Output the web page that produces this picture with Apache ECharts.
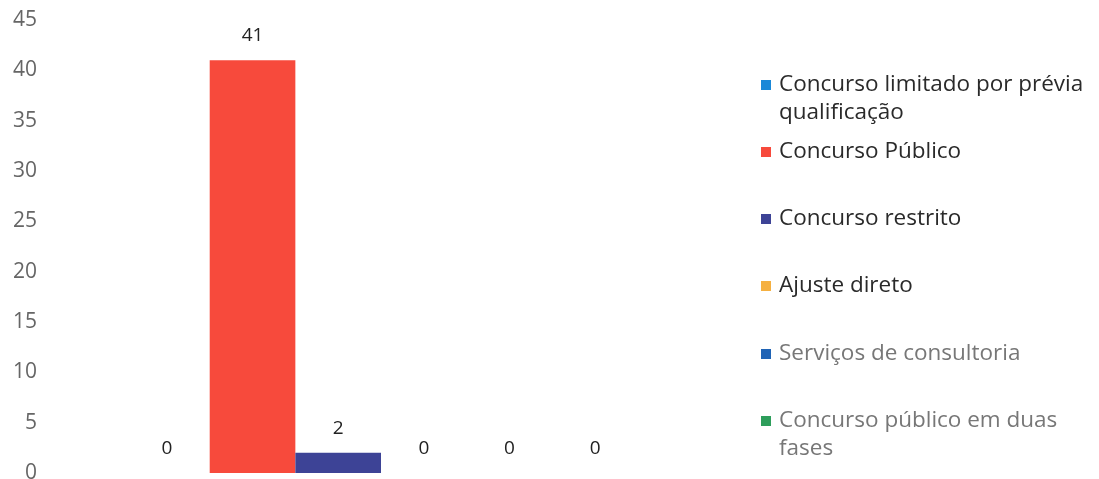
<!DOCTYPE html>
<html>
<head>
<meta charset="utf-8">
<script src="https://cdn.jsdelivr.net/npm/echarts@6/dist/echarts.min.js"></script>
<style>
html,body{margin:0;padding:0;background:#fff;}
#chart{width:1099px;height:479px;}
</style>
</head>
<body>
<div id="chart"></div>
<script>
const categories = [''];
const seriesNames = [
  'Concurso limitado por prévia qualificação',
  'Concurso Público',
  'Concurso restrito',
  'Ajuste direto',
  'Serviços de consultoria',
  'Concurso público em duas fases'
];
const legendLabels = [
  'Concurso limitado por prévia\nqualificação',
  'Concurso Público',
  'Concurso restrito',
  'Ajuste direto',
  'Serviços de consultoria',
  'Concurso público em duas\nfases'
];
const seriesValues = [0, 41, 2, 0, 0, 0];
const seriesColors = ['#1a88d8', '#f74a3c', '#3d4396', '#f5b041', '#1f63b5', '#2e9e5b'];
const legendTextColors = ['#2a2a2a', '#2a2a2a', '#2a2a2a', '#2a2a2a', '#777', '#777'];
const legendTops = [71, 138, 205, 272, 340, 407];
const yTicks = { min: 0, max: 45, interval: 5 };

const chart = echarts.init(document.getElementById('chart'));

const legends = seriesNames.map((name, i) => {
  const twoLine = legendLabels[i].indexOf('\n') >= 0;
  return {
    data: [name],
    left: 761,
    top: legendTops[i],
    orient: 'vertical',
    padding: 0,
    selectedMode: false,
    itemWidth: 13,
    itemHeight: twoLine ? 38 : 10,
    icon: twoLine ? 'path://M0,0H10V10H0Z M13,38H13.01' : 'path://M0,0H10V10H0Z M13,0H13.01',
    itemStyle: { color: seriesColors[i] },
    formatter: () => legendLabels[i],
    textStyle: {
      fontFamily: 'Open Sans',
      fontSize: 22.5,
      lineHeight: 28,
      color: legendTextColors[i]
    }
  };
});

const option = {
  animation: false,
  backgroundColor: '#fff',
  grid: { left: 46, right: 383, top: 20, bottom: 6, containLabel: false, outerBoundsMode: 'none' },
  legend: legends,
  xAxis: {
    type: 'category',
    data: categories,
    axisLine: { show: false },
    axisTick: { show: false },
    axisLabel: { show: false },
    splitLine: { show: false }
  },
  yAxis: {
    type: 'value',
    min: yTicks.min,
    max: yTicks.max,
    interval: yTicks.interval,
    axisLine: { show: false },
    axisTick: { show: false },
    splitLine: { show: false },
    axisLabel: {
      fontFamily: 'Open Sans',
      fontSize: 21,
      color: '#666',
      margin: 9,
      padding: [4, 0, 0, 0]
    }
  },
  series: seriesNames.map((name, i) => ({
    name: name,
    type: 'bar',
    data: [seriesValues[i]],
    barGap: '0%',
    barCategoryGap: '23.3%',
    itemStyle: { color: seriesColors[i] },
    label: {
      show: true,
      position: 'top',
      distance: 15,
      fontFamily: 'Open Sans',
      fontSize: 19,
      color: '#222'
    }
  }))
};
chart.setOption(option);
</script>
</body>
</html>
